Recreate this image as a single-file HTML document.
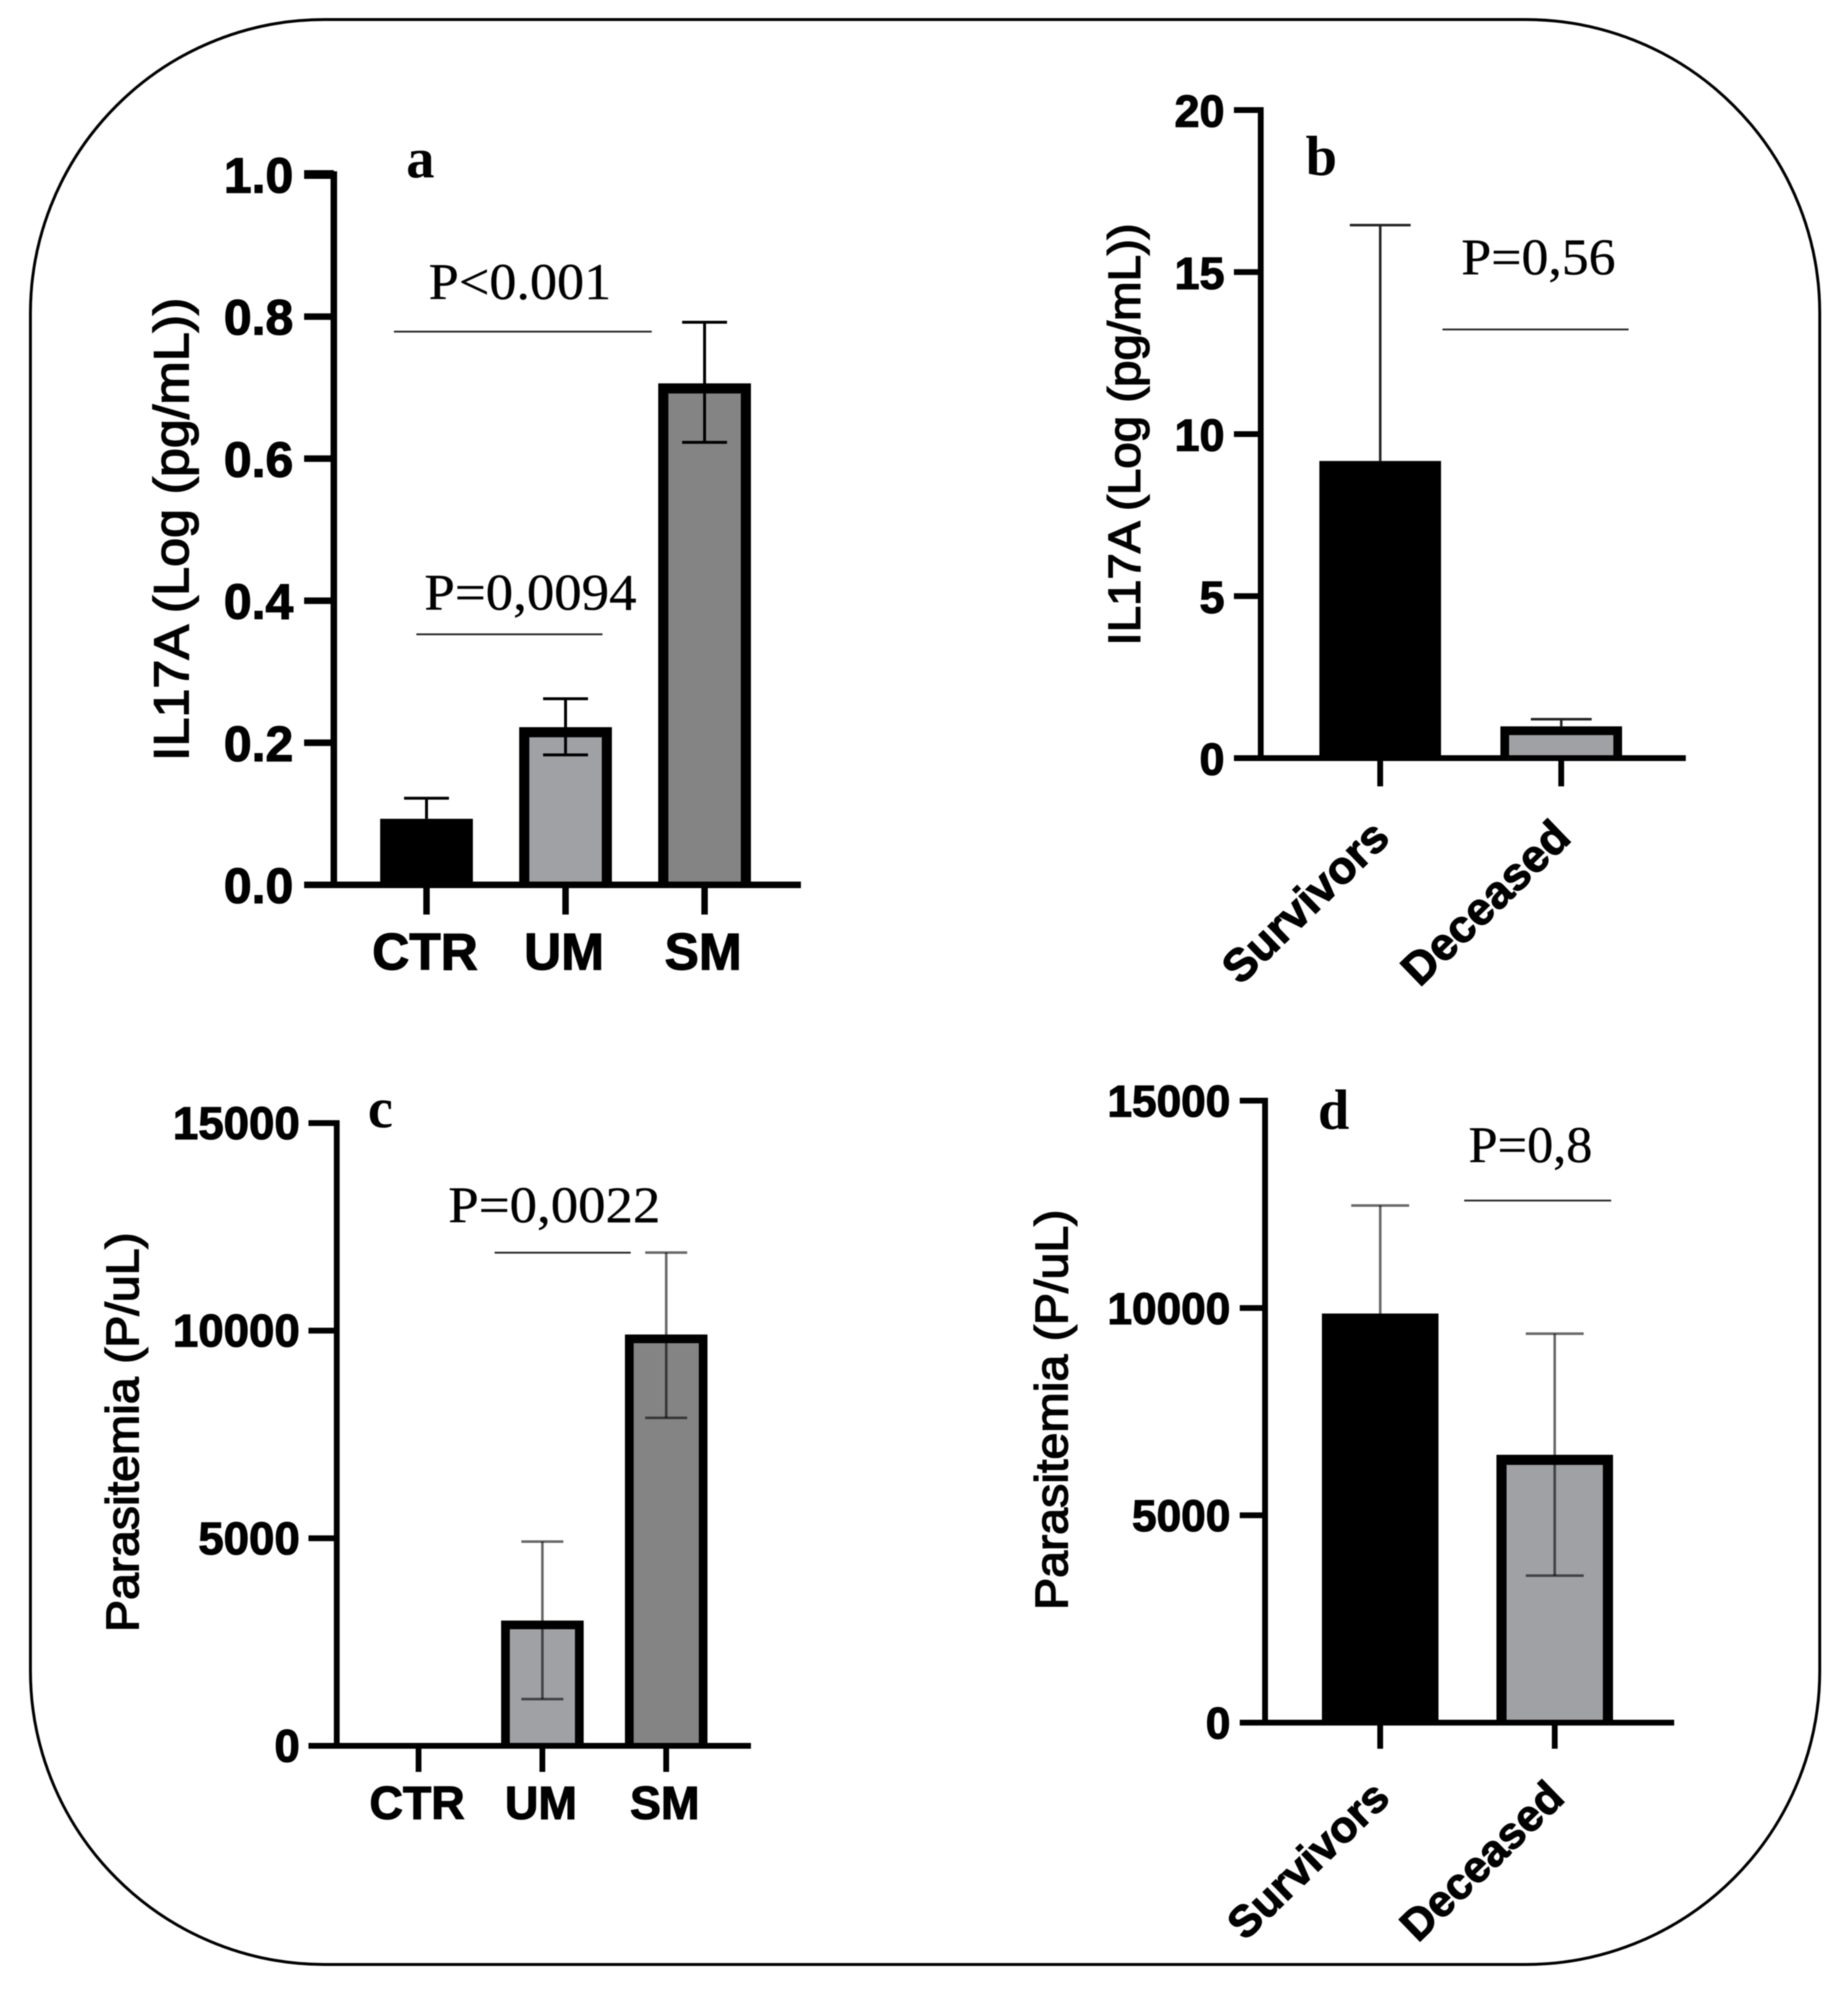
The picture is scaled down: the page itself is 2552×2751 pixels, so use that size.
<!DOCTYPE html>
<html lang="en">
<head>
<meta charset="utf-8">
<title>IL17A and parasitemia bar charts</title>
<style>
html,body{margin:0;padding:0;background:#fff;width:2552px;height:2751px;overflow:hidden}
svg{display:block;filter:blur(0.8px)}
.tick{font-family:"Liberation Sans",Arial,sans-serif;font-weight:700;fill:#000;stroke:#000;stroke-width:1.5px}
.title{font-family:"Liberation Sans",Arial,sans-serif;font-weight:400;fill:#000;stroke:#000;stroke-width:1.9px}
.note{font-family:"Liberation Serif","DejaVu Serif",serif;fill:#000;stroke:#000;stroke-width:0.5px}
.letter{font-family:"Liberation Serif","DejaVu Serif",serif;font-weight:700;fill:#000}
</style>
</head>
<body>
<svg id="figure" xmlns="http://www.w3.org/2000/svg" width="2552" height="2751" viewBox="0 0 2552 2751">
  <rect x="0" y="0" width="2552" height="2751" fill="#fff"/>
  <rect x="42" y="27" width="2471" height="2686" rx="406" ry="406" fill="none" stroke="#000" stroke-width="4"/>

  <text class="letter" x="561" y="245" font-size="78">a</text>
  <text class="letter" x="1803" y="242" font-size="78">b</text>
  <text class="letter" x="508" y="1557" font-size="78">c</text>
  <text class="letter" x="1820" y="1559" font-size="78">d</text>

  <text class="title" font-size="68" text-anchor="middle" textLength="640" lengthAdjust="spacingAndGlyphs" transform="translate(260 731) rotate(-90)">IL17A (Log (pg/mL))</text>
  <text class="title" font-size="62" text-anchor="middle" textLength="583" lengthAdjust="spacingAndGlyphs" transform="translate(1574 600) rotate(-90)">IL17A (Log (pg/mL))</text>
  <text class="title" font-size="63" text-anchor="middle" textLength="552" lengthAdjust="spacingAndGlyphs" transform="translate(191 1978) rotate(-90)">Parasitemia (P/uL)</text>
  <text class="title" font-size="63" text-anchor="middle" textLength="553" lengthAdjust="spacingAndGlyphs" transform="translate(1474 1947) rotate(-90)">Parasitemia (P/uL)</text>

  <text class="note" x="592" y="413" font-size="71" textLength="252" lengthAdjust="spacingAndGlyphs">P&lt;0.001</text>
  <line x1="544" y1="458" x2="900" y2="458" stroke="#222" stroke-width="2.5"/>
  <text class="note" x="586" y="842" font-size="71" textLength="293" lengthAdjust="spacingAndGlyphs">P=0,0094</text>
  <line x1="575" y1="876" x2="832" y2="876" stroke="#222" stroke-width="2.5"/>

  <text class="note" x="2018" y="379" font-size="71" textLength="213" lengthAdjust="spacingAndGlyphs">P=0,56</text>
  <line x1="1992" y1="455" x2="2249" y2="455" stroke="#222" stroke-width="2.5"/>

  <text class="note" x="619" y="1688" font-size="71" textLength="293" lengthAdjust="spacingAndGlyphs">P=0,0022</text>
  <line x1="683" y1="1730" x2="871" y2="1730" stroke="#222" stroke-width="2.5"/>

  <text class="note" x="2028" y="1605" font-size="71" textLength="171" lengthAdjust="spacingAndGlyphs">P=0,8</text>
  <line x1="2022" y1="1658" x2="2225" y2="1658" stroke="#222" stroke-width="2.5"/>
</svg>
<script>
// Panel a: IL17A by group
const panelACategories = ["CTR", "UM", "SM"];
const panelAValues = [0.093, 0.222, 0.706];
const panelAErrorHigh = [0.122, 0.262, 0.792];
const panelAErrorLow = [null, 0.183, 0.623];
const panelATickValues = [0, 0.2, 0.4, 0.6, 0.8, 1.0];
const panelATickLabels = ["0.0", "0.2", "0.4", "0.6", "0.8", "1.0"];

// Panel b: IL17A by outcome
const panelBCategories = ["Survivors", "Deceased"];
const panelBValues = [9.17, 0.98];
const panelBErrorHigh = [16.45, 1.2];
const panelBErrorLow = [null, null];
const panelBTickValues = [0, 5, 10, 15, 20];
const panelBTickLabels = ["0", "5", "10", "15", "20"];

// Panel c: parasitemia by group
const panelCCategories = ["CTR", "UM", "SM"];
const panelCValues = [0, 3017, 9907];
const panelCErrorHigh = [null, 4919, 11880];
const panelCErrorLow = [null, 1125, 7900];
const panelCTickValues = [0, 5000, 10000, 15000];
const panelCTickLabels = ["0", "5000", "10000", "15000"];

// Panel d: parasitemia by outcome
const panelDCategories = ["Survivors", "Deceased"];
const panelDValues = [9866, 6460];
const panelDErrorHigh = [12470, 9380];
const panelDErrorLow = [null, 3545];
const panelDTickValues = [0, 5000, 10000, 15000];
const panelDTickLabels = ["0", "5000", "10000", "15000"];

const FILLS = ["#000000", "#a0a1a5", "#848484"];
const svg = document.getElementById("figure");
const NS = "http://www.w3.org/2000/svg";

function make(tag, attrs, parent) {
  const node = document.createElementNS(NS, tag);
  for (const key in attrs) node.setAttribute(key, attrs[key]);
  parent.appendChild(node);
  return node;
}

function drawPanel(id, cfg) {
  const yScale = v => cfg.zeroY - (v / cfg.yMax) * (cfg.zeroY - cfg.topY);
  const xScale = i => cfg.firstX + i * cfg.stepX;

  const group = make("g", {}, svg);
  
  

  cfg.values.forEach((value, i) => {
    const cx = xScale(i);
    const top = yScale(value);
    const outer = make("rect", { x: cx - cfg.barW / 2, y: top, width: cfg.barW, height: Math.max(0, cfg.zeroY - top), fill: "#000" }, group);
    
    
    if (i > 0 && value > 0) {
      const inner = make("rect", {
        x: cx - cfg.barW / 2 + cfg.border,
        y: top + cfg.border,
        width: cfg.barW - 2 * cfg.border,
        height: Math.max(0, cfg.zeroY - top - cfg.border),
        fill: FILLS[i]
      }, group);
      
      
    }
  });

  cfg.values.forEach((value, i) => {
    const high = cfg.errorHigh[i];
    const low = cfg.errorLow[i];
    if (high === null) return;
    const cx = xScale(i);
    const bottom = low === null ? value : low;
    const stem = make("line", { x1: cx, x2: cx, y1: yScale(high), y2: yScale(bottom), stroke: cfg.errColor, "stroke-width": cfg.errW }, group);
    
    
    const capHigh = make("line", { x1: cx - cfg.capW / 2, x2: cx + cfg.capW / 2, y1: yScale(high), y2: yScale(high), stroke: cfg.errColor, "stroke-width": cfg.errW }, group);
    
    
    if (low !== null) {
      const capLow = make("line", { x1: cx - cfg.capW / 2, x2: cx + cfg.capW / 2, y1: yScale(low), y2: yScale(low), stroke: cfg.errColor, "stroke-width": cfg.errW }, group);
      
      
    }
  });

  const half = cfg.axisW / 2;
  const yAxis = make("line", { x1: cfg.axisX, x2: cfg.axisX, y1: cfg.topY - half, y2: cfg.zeroY + half, stroke: "#000", "stroke-width": cfg.axisW }, group);
  
  
  const xAxis = make("line", { x1: cfg.tickLeft, x2: cfg.axisRight, y1: cfg.zeroY, y2: cfg.zeroY, stroke: "#000", "stroke-width": cfg.axisW }, group);
  
  

  cfg.tickValues.forEach((value, i) => {
    const y = yScale(value);
    const isTop = i === cfg.tickValues.length - 1;
    const tick = make("line", { x1: cfg.tickLeft, x2: cfg.axisX, y1: y, y2: y, stroke: "#000", "stroke-width": isTop ? cfg.topTickW : cfg.axisW }, group);
    
    
    const label = make("text", { class: "tick", x: cfg.labelRight, y: y + cfg.yLabelDrop, "font-size": cfg.tickFont, "text-anchor": "end" }, group);
    
    
    label.textContent = cfg.tickLabels[i];
  });

  cfg.categories.forEach((name, i) => {
    const cx = xScale(i);
    const tick = make("line", { x1: cx, x2: cx, y1: cfg.zeroY, y2: cfg.tickBottom, stroke: "#000", "stroke-width": cfg.axisW }, group);
    
    
    const label = make("text", { class: "tick", "font-size": cfg.catFont }, group);
    
    
    if (cfg.rotated) {
      label.setAttribute("text-anchor", "end");
      label.setAttribute("transform", "translate(" + (cx + cfg.catDx) + " " + cfg.catY + ") rotate(-44)");
    } else {
      label.setAttribute("text-anchor", "middle");
      label.setAttribute("x", cx + cfg.catDx);
      label.setAttribute("y", cfg.catY);
    }
    label.textContent = name;
  });
}

drawPanel("panel-a", {
  categories: panelACategories, values: panelAValues, errorHigh: panelAErrorHigh, errorLow: panelAErrorLow,
  tickValues: panelATickValues, tickLabels: panelATickLabels, yMax: 1,
  topY: 241, zeroY: 1222, axisX: 461, axisRight: 1106, tickLeft: 420, tickBottom: 1263,
  firstX: 589, stepX: 192, barW: 128, border: 14, axisW: 9, topTickW: 12,
  errColor: "#000", errW: 4, capW: 62, labelRight: 405, yLabelDrop: 25, tickFont: 69,
  catFont: 71, catDx: -2, catY: 1339, rotated: false
});
drawPanel("panel-b", {
  categories: panelBCategories, values: panelBValues, errorHigh: panelBErrorHigh, errorLow: panelBErrorLow,
  tickValues: panelBTickValues, tickLabels: panelBTickLabels, yMax: 20,
  topY: 152, zeroY: 1047, axisX: 1741, axisRight: 2328, tickLeft: 1704, tickBottom: 1086,
  firstX: 1906, stepX: 250, barW: 168, border: 12, axisW: 8, topTickW: 8,
  errColor: "#222", errW: 3.5, capW: 84, labelRight: 1691, yLabelDrop: 23, tickFont: 62,
  catFont: 63, catDx: 16, catY: 1160, rotated: true
});
drawPanel("panel-c", {
  categories: panelCCategories, values: panelCValues, errorHigh: panelCErrorHigh, errorLow: panelCErrorLow,
  tickValues: panelCTickValues, tickLabels: panelCTickLabels, yMax: 15000,
  topY: 1551, zeroY: 2411, axisX: 465, axisRight: 1037, tickLeft: 426, tickBottom: 2447,
  firstX: 578, stepX: 171, barW: 114, border: 12, axisW: 8, topTickW: 8,
  errColor: "rgba(0,0,0,0.6)", errW: 3.5, capW: 58, labelRight: 414, yLabelDrop: 22, tickFont: 63,
  catFont: 64, catDx: -2, catY: 2512, rotated: false
});
drawPanel("panel-d", {
  categories: panelDCategories, values: panelDValues, errorHigh: panelDErrorHigh, errorLow: panelDErrorLow,
  tickValues: panelDTickValues, tickLabels: panelDTickLabels, yMax: 15000,
  topY: 1520, zeroY: 2379, axisX: 1747, axisRight: 2312, tickLeft: 1712, tickBottom: 2415,
  firstX: 1906, stepX: 241, barW: 161, border: 14, axisW: 8, topTickW: 8,
  errColor: "rgba(0,0,0,0.6)", errW: 3.5, capW: 80, labelRight: 1699, yLabelDrop: 22, tickFont: 61,
  catFont: 61, catDx: 16, catY: 2486, rotated: true
});
</script>
</body>
</html>
